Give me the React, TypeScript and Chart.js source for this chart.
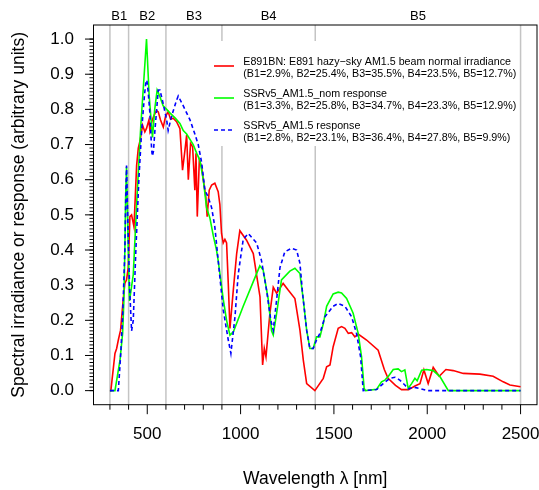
import React, { useEffect, useRef } from 'react';
import { Chart, registerables } from 'chart.js';

Chart.register(...registerables);

// ---------- data ----------
const BAND_EDGES = [300, 400, 600, 900, 1400, 2500];
const BAND_NAMES = ['B1', 'B2', 'B3', 'B4', 'B5'];
const X_MAJOR_TICKS = [500, 1000, 1500, 2000, 2500];
const X_TICK_LABELS = ['500', '1000', '1500', '2000', '2500'];
const X_MINOR_TICKS = [300, 400, 600, 700, 800, 900, 1100, 1200, 1300, 1400, 1600, 1700, 1800, 1900, 2100, 2200, 2300, 2400];
const Y_MAJOR_TICKS = [0, 0.1, 0.2, 0.3, 0.4, 0.5, 0.6, 0.7, 0.8, 0.9, 1.0];
const Y_TICK_LABELS = ['0.0', '0.1', '0.2', '0.3', '0.4', '0.5', '0.6', '0.7', '0.8', '0.9', '1.0'];
const Y_MINOR_STEP = 0.01;

const X_TITLE = 'Wavelength \u03bb [nm]';
const Y_TITLE = 'Spectral irradiance or response (arbitrary units)';

const SERIES_NAMES = [
  'E891BN: E891 hazy\u2212sky AM1.5 beam normal irradiance',
  'SSRv5_AM1.5_nom response',
  'SSRv5_AM1.5 response',
];
const SERIES_STATS = [
  '(B1=2.9%, B2=25.4%, B3=35.5%, B4=23.5%, B5=12.7%)',
  '(B1=3.3%, B2=25.8%, B3=34.7%, B4=23.3%, B5=12.9%)',
  '(B1=2.8%, B2=23.1%, B3=36.4%, B4=27.8%, B5=9.9%)',
];

const RED_WL = [300, 305, 327, 336, 345, 357, 371, 380, 389, 398, 407, 416, 429, 443, 452, 461, 475, 487, 496, 509, 514, 527, 537, 550, 559, 571, 586, 598, 612, 625, 639, 657, 675, 689, 702, 711, 720, 732, 743, 755, 761, 768, 779, 791, 800, 814, 821, 832, 845, 862, 880, 889, 898, 907, 916, 925, 934, 943, 961, 979, 996, 1032, 1068, 1104, 1118, 1127, 1136, 1157, 1175, 1193, 1228, 1255, 1291, 1318, 1336, 1354, 1398, 1443, 1461, 1479, 1496, 1523, 1541, 1559, 1577, 1595, 1612, 1630, 1675, 1737, 1770, 1790, 1830, 1862, 1900, 1934, 1961, 1982, 2005, 2032, 2064, 2100, 2139, 2193, 2282, 2353, 2407, 2443, 2500];
const RED_VAL = [0, 0, 0.106, 0.12, 0.144, 0.172, 0.258, 0.305, 0.315, 0.35, 0.495, 0.5, 0.466, 0.64, 0.69, 0.71, 0.755, 0.736, 0.746, 0.77, 0.74, 0.77, 0.784, 0.797, 0.793, 0.77, 0.75, 0.78, 0.793, 0.772, 0.775, 0.765, 0.745, 0.627, 0.684, 0.727, 0.6, 0.703, 0.694, 0.57, 0.675, 0.495, 0.656, 0.637, 0.6, 0.55, 0.495, 0.57, 0.585, 0.59, 0.566, 0.53, 0.447, 0.42, 0.43, 0.42, 0.305, 0.177, 0.286, 0.39, 0.455, 0.428, 0.39, 0.267, 0.073, 0.12, 0.096, 0.22, 0.294, 0.277, 0.305, 0.286, 0.262, 0.172, 0.087, 0.02, 0.0, 0.035, 0.068, 0.073, 0.125, 0.177, 0.182, 0.177, 0.163, 0.165, 0.153, 0.161, 0.144, 0.115, 0.06, 0.035, 0.015, 0.003, 0.003, 0.013, 0.02, 0.059, 0.02, 0.066, 0.041, 0.06, 0.057, 0.049, 0.047, 0.041, 0.025, 0.016, 0.011];

const GREEN_WL = [300, 327, 354, 368, 375, 380, 384, 389, 396, 405, 425, 445, 465, 480, 496, 510, 528, 540, 553, 568, 585, 604, 621, 650, 675, 693, 711, 746, 765, 782, 800, 818, 836, 854, 871, 880, 907, 925, 943, 961, 1014, 1068, 1103, 1121, 1148, 1166, 1175, 1193, 1219, 1264, 1291, 1318, 1336, 1354, 1371, 1389, 1407, 1425, 1443, 1461, 1496, 1523, 1541, 1568, 1603, 1630, 1648, 1662, 1670, 1729, 1755, 1773, 1791, 1818, 1844, 1862, 1880, 1898, 1916, 1934, 1946, 1970, 1996, 2032, 2068, 2113, 2500];
const GREEN_VAL = [0, 0, 0.087, 0.163, 0.26, 0.4, 0.55, 0.637, 0.45, 0.255, 0.33, 0.55, 0.75, 0.87, 1.0, 0.84, 0.72, 0.8, 0.855, 0.836, 0.81, 0.8, 0.79, 0.775, 0.76, 0.74, 0.73, 0.7, 0.675, 0.655, 0.6, 0.52, 0.49, 0.44, 0.4, 0.37, 0.26, 0.2, 0.158, 0.167, 0.24, 0.31, 0.355, 0.343, 0.26, 0.17, 0.158, 0.22, 0.315, 0.34, 0.348, 0.333, 0.258, 0.172, 0.12, 0.12, 0.153, 0.153, 0.19, 0.24, 0.275, 0.28, 0.278, 0.262, 0.22, 0.163, 0.096, 0.006, 0, 0.004, 0.025, 0.03, 0.04, 0.06, 0.062, 0.054, 0.059, 0.006, 0.02, 0.035, 0.028, 0.058, 0.06, 0.057, 0.04, 0, 0];

const BLUE_WL = [300, 345, 350, 359, 368, 380, 385, 389, 395, 405, 416, 425, 439, 455, 470, 485, 493, 498, 505, 514, 523, 527, 533, 541, 559, 568, 585, 604, 612, 630, 657, 666, 693, 729, 755, 773, 791, 809, 827, 845, 862, 880, 907, 934, 948, 970, 987, 1014, 1041, 1086, 1112, 1139, 1162, 1175, 1193, 1211, 1237, 1273, 1300, 1318, 1332, 1354, 1371, 1389, 1407, 1425, 1452, 1496, 1523, 1559, 1595, 1621, 1643, 1657, 1729, 1764, 1800, 1827, 1853, 1880, 1898, 1925, 1961, 2000, 2500];
const BLUE_VAL = [0, 0, 0.04, 0.115, 0.21, 0.4, 0.55, 0.64, 0.5, 0.3, 0.17, 0.2, 0.4, 0.6, 0.74, 0.84, 0.88, 0.883, 0.85, 0.79, 0.69, 0.667, 0.68, 0.74, 0.855, 0.855, 0.817, 0.77, 0.74, 0.78, 0.826, 0.838, 0.81, 0.77, 0.73, 0.7, 0.65, 0.57, 0.55, 0.52, 0.466, 0.37, 0.23, 0.144, 0.106, 0.21, 0.33, 0.43, 0.447, 0.42, 0.37, 0.286, 0.2, 0.172, 0.258, 0.35, 0.395, 0.405, 0.4, 0.362, 0.277, 0.172, 0.12, 0.12, 0.144, 0.163, 0.21, 0.24, 0.248, 0.24, 0.21, 0.163, 0.096, 0, 0.003, 0.02, 0.035, 0.038, 0.03, 0.016, 0.005, 0.01, 0.006, 0, 0];

// ---------- styling ----------
const FONT = '"Liberation Sans", Arial, Helvetica, sans-serif';
const COLORS = ['#ff0000', '#00ff00', '#0000ff'];
const DASHES: number[][] = [[], [], [4, 3]];

const toPts = (xs: number[], ys: number[]) => xs.map((x, i) => ({ x, y: ys[i] }));

const decor = {
  id: 'rdecor',
  beforeDatasetsDraw(chart: any) {
    const { ctx, chartArea: ca, scales } = chart;
    const x = scales.x;
    ctx.save();
    ctx.strokeStyle = '#c4c4c4';
    ctx.lineWidth = 1.5;
    for (const b of BAND_EDGES) {
      const px = x.getPixelForValue(b);
      ctx.beginPath();
      ctx.moveTo(px, ca.top);
      ctx.lineTo(px, ca.bottom);
      ctx.stroke();
    }
    ctx.restore();
  },
  afterDraw(chart: any) {
    const { ctx, chartArea: ca, scales } = chart;
    const x = scales.x;
    const y = scales.y;
    ctx.save();
    // legend background & content
    ctx.fillStyle = '#ffffff';
    ctx.fillRect(206, 41, 311, 105);
    const legTop = 62;
    const legStep = 32;
    ctx.font = `10.7px ${FONT}`;
    ctx.textBaseline = 'middle';
    ctx.textAlign = 'left';
    for (let i = 0; i < 3; i++) {
      const ty = legTop + i * legStep;
      ctx.fillStyle = '#000';
      ctx.fillText(SERIES_NAMES[i], 243.3, ty);
      ctx.fillText(SERIES_STATS[i], 243.3, ty + 12);
      ctx.strokeStyle = COLORS[i];
      ctx.lineWidth = 1.6;
      ctx.setLineDash(DASHES[i]);
      ctx.beginPath();
      ctx.moveTo(214, ty + 4);
      ctx.lineTo(234, ty + 4);
      ctx.stroke();
      ctx.setLineDash([]);
    }

    // box
    ctx.strokeStyle = '#000';
    ctx.lineWidth = 1;
    ctx.strokeRect(ca.left, ca.top, ca.right - ca.left, ca.bottom - ca.top);

    // x ticks
    ctx.beginPath();
    for (const t of X_MAJOR_TICKS) {
      const px = x.getPixelForValue(t);
      ctx.moveTo(px, ca.bottom);
      ctx.lineTo(px, ca.bottom + 9.5);
    }
    for (const t of X_MINOR_TICKS) {
      const px = x.getPixelForValue(t);
      ctx.moveTo(px, ca.bottom);
      ctx.lineTo(px, ca.bottom + 5);
    }
    // y ticks
    for (const t of Y_MAJOR_TICKS) {
      const py = y.getPixelForValue(t);
      ctx.moveTo(ca.left, py);
      ctx.lineTo(ca.left - 8.5, py);
    }
    for (let k = 0; k <= 100; k++) {
      const py = y.getPixelForValue(k * Y_MINOR_STEP);
      ctx.moveTo(ca.left, py);
      ctx.lineTo(ca.left - 4, py);
    }
    ctx.stroke();

    // tick labels
    ctx.fillStyle = '#000';
    ctx.font = `17px ${FONT}`;
    ctx.textAlign = 'center';
    ctx.textBaseline = 'middle';
    X_MAJOR_TICKS.forEach((t, i) => ctx.fillText(X_TICK_LABELS[i], x.getPixelForValue(t), 434));
    ctx.textAlign = 'right';
    Y_MAJOR_TICKS.forEach((t, i) => ctx.fillText(Y_TICK_LABELS[i], 74, y.getPixelForValue(t)));

    // titles
    ctx.font = `17.5px ${FONT}`;
    ctx.textAlign = 'center';
    ctx.fillText(X_TITLE, (ca.left + ca.right) / 2, 479);
    ctx.save();
    ctx.translate(19, (ca.top + ca.bottom) / 2);
    ctx.rotate(-Math.PI / 2);
    ctx.fillText(Y_TITLE, 0, 0);
    ctx.restore();

    // band names
    ctx.font = `13px ${FONT}`;
    for (let i = 0; i < BAND_NAMES.length; i++) {
      const mid = (BAND_EDGES[i] + BAND_EDGES[i + 1]) / 2;
      ctx.fillText(BAND_NAMES[i], x.getPixelForValue(mid), 16.5);
    }
    ctx.restore();
  },
};

export default function App() {
  const ref = useRef<HTMLCanvasElement>(null);
  useEffect(() => {
    if (!ref.current) return;
    const chart = new Chart(ref.current, {
      type: 'scatter',
      data: {
        datasets: [
          { label: SERIES_NAMES[0], data: toPts(RED_WL, RED_VAL), showLine: true, borderColor: COLORS[0], borderWidth: 1.6, pointRadius: 0, order: 3 },
          { label: SERIES_NAMES[1], data: toPts(GREEN_WL, GREEN_VAL), showLine: true, borderColor: COLORS[1], borderWidth: 1.6, pointRadius: 0, order: 2 },
          { label: SERIES_NAMES[2], data: toPts(BLUE_WL, BLUE_VAL), showLine: true, borderColor: COLORS[2], borderWidth: 1.6, borderDash: DASHES[2], pointRadius: 0, order: 1 },
        ],
      },
      options: {
        animation: false,
        responsive: false,
        devicePixelRatio: 1,
        layout: { padding: { left: 93.5, right: 2, top: 25, bottom: 85.3 } },
        scales: {
          x: { type: 'linear', min: 212, max: 2588, display: false },
          y: { type: 'linear', min: -0.04, max: 1.04, display: false },
        },
        elements: { line: { tension: 0 }, point: { radius: 0 } },
        plugins: { legend: { display: false }, tooltip: { enabled: false } },
      },
      plugins: [decor],
    });
    return () => chart.destroy();
  }, []);
  return (
    <div style={{ position: 'absolute', left: 0, top: 0, width: 539, height: 490, background: '#fff' }}>
      <canvas ref={ref} width={539} height={490} style={{ width: 539, height: 490, display: 'block' }} />
    </div>
  );
}
